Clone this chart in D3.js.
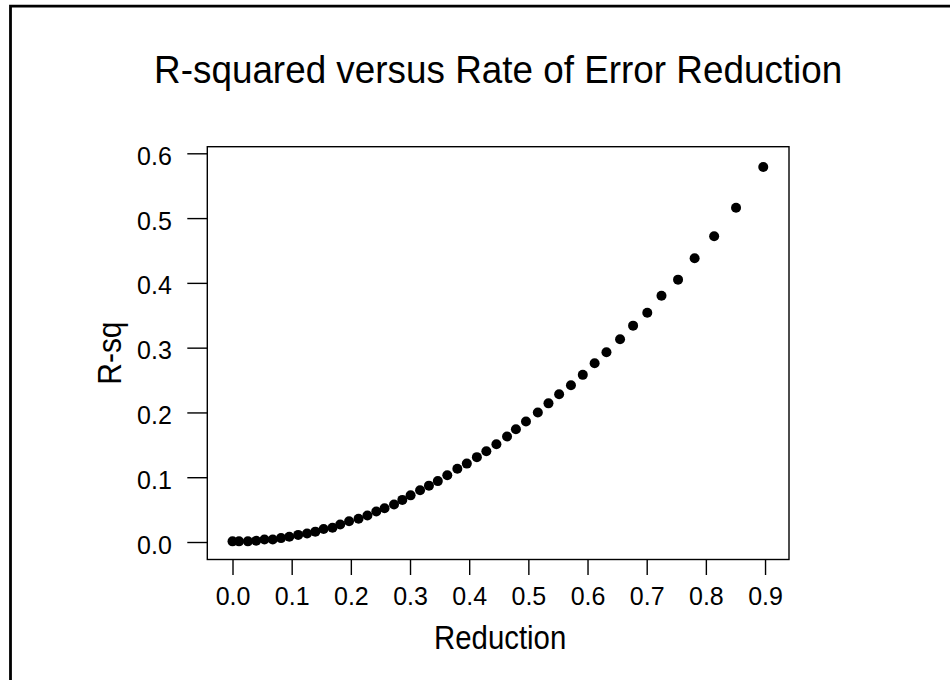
<!DOCTYPE html>
<html>
<head>
<meta charset="utf-8">
<script src="https://cdn.jsdelivr.net/npm/d3@7"></script>
<style>
  html, body { margin: 0; padding: 0; background: #fff; }
  svg { display: block; }
  text { font-family: "Liberation Sans", Arial, Helvetica, sans-serif; fill: #000; }
</style>
</head>
<body>
<svg id="chart" width="950" height="680"></svg>
<script>
// Rate of error reduction (x) and the resulting R-squared (y)
const reduction = [
  0.000, 0.011, 0.026, 0.040, 0.054, 0.068, 0.082, 0.096, 0.111, 0.126,
  0.140, 0.154, 0.169, 0.182, 0.197, 0.213, 0.228, 0.243, 0.257, 0.273,
  0.287, 0.301, 0.317, 0.332, 0.347, 0.363, 0.380, 0.396, 0.413, 0.429,
  0.446, 0.464, 0.479, 0.496, 0.516, 0.534, 0.552, 0.572, 0.592, 0.612,
  0.632, 0.655, 0.677, 0.701, 0.725, 0.753, 0.781, 0.814, 0.851, 0.897
];
const rsq = [
  0.001, 0.001, 0.001, 0.002, 0.004, 0.004, 0.006, 0.008, 0.011, 0.013,
  0.016, 0.020, 0.022, 0.027, 0.032, 0.036, 0.041, 0.047, 0.052, 0.058,
  0.065, 0.072, 0.080, 0.087, 0.094, 0.103, 0.113, 0.121, 0.131, 0.140,
  0.151, 0.163, 0.174, 0.186, 0.200, 0.214, 0.228, 0.242, 0.258, 0.276,
  0.293, 0.313, 0.334, 0.354, 0.380, 0.405, 0.438, 0.472, 0.516, 0.579
];
const xTicks = [0.0, 0.1, 0.2, 0.3, 0.4, 0.5, 0.6, 0.7, 0.8, 0.9];
const yTicks = [0.0, 0.1, 0.2, 0.3, 0.4, 0.5, 0.6];

const titleText = "R-squared versus Rate of Error Reduction";
const xLabel = "Reduction";
const yLabel = "R-sq";

const svg = d3.select("#chart");

// plot frame
const box = { left: 207.3, right: 789, top: 146.7, bottom: 559.5 };

const x = d3.scaleLinear()
  .domain([-0.0426, 0.9405])
  .range([box.left, box.right]);
const y = d3.scaleLinear()
  .domain([-0.027, 0.6102])
  .range([box.bottom, box.top]);

// outer graph border (top and left edges)
svg.append("path")
  .attr("d", `M10.5,680 V6.2 H950`)
  .attr("fill", "none")
  .attr("stroke", "#000")
  .attr("stroke-width", 2.8);

// title
svg.append("text")
  .attr("transform", `translate(${(box.left + box.right) / 2},83.3) scale(0.97,1)`)
  .attr("text-anchor", "middle")
  .style("font-size", "38px")
  .text(titleText);

// data region rectangle
svg.append("rect")
  .attr("x", box.left)
  .attr("y", box.top)
  .attr("width", box.right - box.left)
  .attr("height", box.bottom - box.top)
  .attr("fill", "none")
  .attr("stroke", "#000")
  .attr("stroke-width", 1.4);

// x axis
const xAxis = d3.axisBottom(x)
  .tickValues(xTicks)
  .tickFormat(d3.format(".1f"))
  .tickSize(15.5)
  .tickPadding(12);
const gx = svg.append("g")
  .attr("transform", `translate(0,${box.bottom})`)
  .call(xAxis);
gx.select(".domain").remove();
gx.selectAll(".tick line").attr("stroke", "#000").attr("stroke-width", 1.4);
gx.selectAll(".tick text")
  .attr("fill", "#000")
  .attr("dy", null)
  .attr("y", 45.5)
  .style("font-size", "25px")
  .style("font-family", "'Liberation Sans', Arial, sans-serif");

// y axis
const yAxis = d3.axisLeft(y)
  .tickValues(yTicks)
  .tickFormat(d3.format(".1f"))
  .tickSize(20)
  .tickPadding(15);
const gy = svg.append("g")
  .attr("transform", `translate(${box.left},0)`)
  .call(yAxis);
gy.select(".domain").remove();
gy.selectAll(".tick line").attr("stroke", "#000").attr("stroke-width", 1.4);
gy.selectAll(".tick text")
  .attr("fill", "#000")
  .attr("dy", null)
  .attr("y", 11)
  .attr("x", -35.5)
  .style("font-size", "25px")
  .style("font-family", "'Liberation Sans', Arial, sans-serif");

// axis titles
svg.append("text")
  .attr("transform", `translate(${(box.left + box.right) / 2 + 2},649.3) scale(0.89,1)`)
  .attr("text-anchor", "middle")
  .style("font-size", "33px")
  .text(xLabel);

svg.append("text")
  .attr("transform", `translate(120.7,${(box.top + box.bottom) / 2}) rotate(-90) scale(0.88,1)`)
  .attr("text-anchor", "middle")
  .style("font-size", "34px")
  .text(yLabel);

// points
const pts = reduction.map((r, i) => ({ r, q: rsq[i] }));
svg.append("g")
  .selectAll("circle")
  .data(pts)
  .join("circle")
  .attr("cx", d => x(d.r))
  .attr("cy", d => y(d.q))
  .attr("r", 5)
  .attr("fill", "#000");
</script>
</body>
</html>
